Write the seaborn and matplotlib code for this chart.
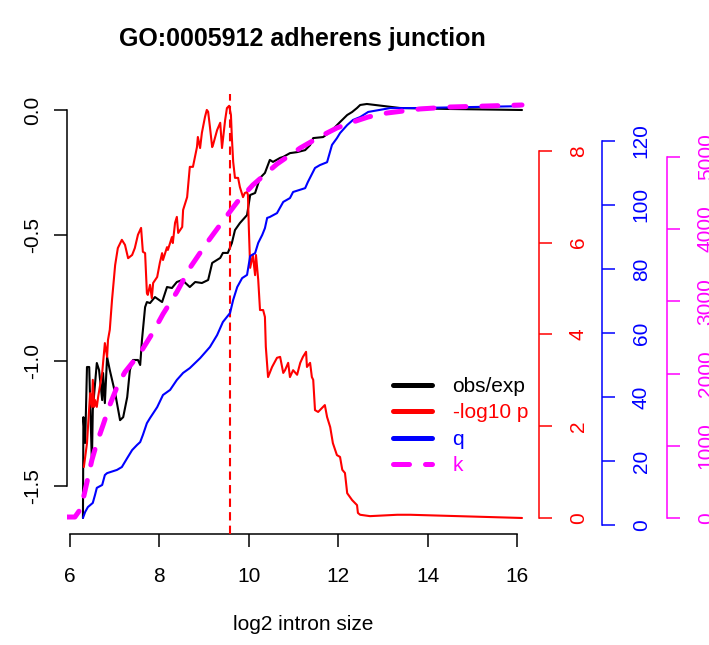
import matplotlib
matplotlib.use("Agg")
import matplotlib.pyplot as plt
from matplotlib.lines import Line2D
import seaborn as sns

# obs/exp ratio (left axis)
obs_x = [6.29, 6.30, 6.34, 6.38, 6.43, 6.49, 6.51, 6.60, 6.65, 6.72,
         6.74, 6.78, 6.83, 6.89, 7.01, 7.12, 7.19, 7.28, 7.34, 7.41,
         7.52, 7.57, 7.61, 7.68, 7.72, 7.79, 7.90, 8.06, 8.17, 8.28,
         8.39, 8.51, 8.68, 8.80, 8.95, 9.09, 9.18, 9.36, 9.42, 9.53,
         9.62, 9.69, 9.80, 9.96, 10.03, 10.14, 10.25, 10.36, 10.47, 10.54,
         10.70, 10.77, 10.92, 11.08, 11.26, 11.37, 11.44, 11.66, 11.82, 12.04,
         12.20, 12.31, 12.42, 12.49, 12.64, 13.38, 14.50, 16.11]
obs_y = [-1.627, -1.225, -1.328, -1.025, -1.025, -1.408, -1.197, -1.009, -1.037, -1.157,
         -1.049, -1.169, -0.985, -1.037, -1.129, -1.237, -1.225, -1.145, -1.037, -0.997,
         -0.997, -1.017, -0.917, -0.786, -0.766, -0.770, -0.746, -0.766, -0.706, -0.710,
         -0.686, -0.678, -0.706, -0.686, -0.690, -0.678, -0.610, -0.590, -0.570, -0.570,
         -0.531, -0.479, -0.451, -0.419, -0.339, -0.331, -0.271, -0.251, -0.199, -0.207,
         -0.191, -0.187, -0.172, -0.168, -0.160, -0.140, -0.112, -0.108, -0.088, -0.048,
         -0.020, -0.008, 0.008, 0.020, 0.024, 0.008, 0.004, 0.0]

# -log10 p (red axis)
p_x = [6.31, 6.34, 6.38, 6.45, 6.49, 6.51, 6.54, 6.56, 6.60, 6.63,
       6.72, 6.74, 6.78, 6.83, 6.85, 6.89, 6.94, 7.01, 7.07, 7.16,
       7.23, 7.30, 7.39, 7.45, 7.52, 7.59, 7.63, 7.68, 7.72, 7.74,
       7.79, 7.83, 7.86, 7.95, 8.01, 8.06, 8.08, 8.17, 8.19, 8.28,
       8.30, 8.35, 8.39, 8.42, 8.51, 8.53, 8.62, 8.68, 8.75, 8.84,
       8.86, 8.91, 8.95, 9.02, 9.06, 9.09, 9.13, 9.18, 9.20, 9.29,
       9.36, 9.40, 9.47, 9.51, 9.56, 9.60, 9.62, 9.65, 9.69, 9.76,
       9.80, 9.87, 9.91, 9.96, 9.98, 10.00, 10.03, 10.09, 10.14, 10.16,
       10.21, 10.25, 10.32, 10.36, 10.38, 10.43, 10.52, 10.63, 10.70, 10.77,
       10.81, 10.88, 10.92, 10.99, 11.08, 11.15, 11.21, 11.28, 11.30, 11.37,
       11.41, 11.44, 11.48, 11.55, 11.70, 11.75, 11.82, 11.88, 11.97, 12.04,
       12.09, 12.15, 12.20, 12.31, 12.42, 12.44, 12.49, 12.71, 13.32, 13.61,
       16.11]
p_y = [1.11, 1.33, 1.63, 2.72, 2.42, 3.01, 2.42, 2.57, 2.42, 2.64,
       3.16, 3.38, 3.81, 3.51, 3.88, 4.10, 4.75, 5.51, 5.88, 6.06,
       5.95, 5.66, 5.73, 5.88, 6.17, 6.32, 5.80, 5.77, 4.90, 4.86,
       5.08, 4.79, 5.12, 5.25, 5.56, 5.77, 5.62, 5.90, 5.84, 6.12,
       5.99, 6.43, 6.56, 6.21, 6.34, 6.71, 6.99, 7.65, 7.65, 8.08,
       8.30, 8.06, 8.39, 8.74, 8.89, 8.85, 8.52, 8.08, 8.13, 8.45,
       8.61, 8.06, 8.67, 8.93, 8.98, 8.78, 8.30, 7.76, 7.41, 7.41,
       7.21, 6.99, 7.08, 7.10, 7.04, 6.32, 5.45, 5.73, 5.29, 5.73,
       5.19, 4.53, 4.53, 4.38, 3.73, 3.07, 3.29, 3.49, 3.51, 3.16,
       3.22, 3.38, 3.07, 3.22, 3.12, 3.38, 3.51, 3.62, 3.29, 3.38,
       3.07, 3.01, 2.35, 2.31, 2.46, 2.20, 1.98, 1.63, 1.37, 1.33,
       1.05, 0.98, 0.54, 0.39, 0.28, 0.11, 0.07, 0.04, 0.07, 0.07,
       0.00]

# q (blue axis)
q_x = [6.29, 6.34, 6.40, 6.51, 6.56, 6.60, 6.72, 6.78, 6.83, 7.05,
       7.16, 7.28, 7.39, 7.50, 7.57, 7.63, 7.72, 7.79, 7.95, 8.08,
       8.24, 8.39, 8.53, 8.68, 8.91, 9.13, 9.29, 9.42, 9.58, 9.65,
       9.74, 9.85, 9.96, 10.03, 10.14, 10.21, 10.30, 10.36, 10.41, 10.47,
       10.63, 10.77, 10.92, 10.99, 11.26, 11.32, 11.48, 11.59, 11.75, 11.86,
       11.97, 12.04, 12.20, 12.33, 12.49, 12.67, 13.16, 13.67, 16.07]
q_y = [2.2, 4.1, 5.6, 6.9, 9.4, 11.6, 12.5, 15.6, 16.2, 17.2,
       18.1, 20.9, 23.4, 25.0, 25.9, 28.1, 31.8, 33.4, 36.8, 40.6,
       42.2, 45.3, 47.5, 49.0, 52.1, 55.6, 59.3, 63.4, 66.2, 70.3,
       74.3, 77.1, 78.1, 84.0, 84.9, 88.1, 90.6, 92.7, 95.9, 96.2,
       97.4, 100.9, 102.1, 104.0, 105.2, 107.1, 111.5, 112.4, 113.3, 118.7,
       120.8, 122.4, 124.9, 126.5, 127.4, 129.0, 130.2, 130.2, 130.8]

# k (magenta axis)
k_x = [5.91, 6.11, 6.22, 6.29, 6.38, 6.49, 6.60, 6.74, 6.89, 7.07,
       7.23, 7.57, 7.86, 8.08, 8.39, 8.68, 9.06, 9.42, 9.74, 10.09,
       10.32, 10.63, 11.15, 11.66, 11.97, 12.26, 12.67, 13.09, 13.83, 14.50,
       15.33, 16.11]
k_y = [14, 14, 111, 249, 498, 803, 1038, 1287, 1564, 1841,
       2021, 2284, 2574, 2823, 3128, 3460, 3806, 4110, 4373, 4609,
       4733, 4899, 5121, 5301, 5398, 5467, 5550, 5605, 5661, 5688,
       5702, 5716]

best_x = 9.57

title = "GO:0005912 adherens junction"
xlabel = "log2 intron size"
legend_labels = ["obs/exp", "-log10 p", "q", "k"]
x_ticks = [6, 8, 10, 12, 14, 16]
obs_ticks = [0.0, -0.5, -1.0, -1.5]
obs_tick_labels = ["0.0", "-0.5", "-1.0", "-1.5"]
p_ticks = [0, 2, 4, 6, 8]
q_ticks = [0, 20, 40, 60, 80, 100, 120]
k_ticks = [0, 1000, 2000, 3000, 4000, 5000]

sns.set_style("ticks", rc={"axes.edgecolor": "black", "text.color": "black",
                           "xtick.color": "black", "ytick.color": "black"})
plt.rcParams["font.family"] = ["Liberation Sans", "DejaVu Sans"]
plt.rcParams["axes.unicode_minus"] = False

W, H = 709, 645
L, R, T, B = 66.5, 539, 94, 534
fig = plt.figure(figsize=(W / 100, H / 100), dpi=100)
ax = fig.add_axes([L / W, 1 - B / H, (R - L) / W, (B - T) / H])
ax.set_xlim(5.922, 16.49)
ax.set_ylim(-1.691, 0.0638)

lw = 1.5
tick_len = 9.4
tick_w = 1.1
fs = 15

# main axis
sns.lineplot(x=obs_x, y=obs_y, ax=ax, color="black", lw=lw, sort=False, estimator=None)
ax.spines[["top", "right"]].set_visible(False)
ax.spines["left"].set_bounds(-1.5, 0.0)
ax.spines["bottom"].set_bounds(6, 16)
for s in ("left", "bottom"):
    ax.spines[s].set_linewidth(tick_w)
ax.set_xticks(x_ticks)
ax.set_xticklabels([str(t) for t in x_ticks])
ax.set_yticks(obs_ticks)
ax.set_yticklabels(obs_tick_labels)
ax.tick_params(axis="both", direction="out", length=tick_len, width=tick_w, labelsize=fs)
ax.tick_params(axis="x", pad=14)
ax.tick_params(axis="y", pad=8, labelrotation=90)
for t in ax.get_yticklabels():
    t.set_verticalalignment("center")


def side_axis(color, lims, ticks, offset):
    a = ax.twinx()
    a.set_ylim(*lims)
    a.spines[["top", "bottom", "left"]].set_visible(False)
    a.spines["right"].set_position(("outward", offset))
    a.spines["right"].set_bounds(ticks[0], ticks[-1])
    a.spines["right"].set_color(color)
    a.spines["right"].set_linewidth(tick_w)
    a.set_yticks(ticks)
    a.set_yticklabels([str(t) for t in ticks])
    a.tick_params(axis="y", direction="out", length=tick_len, width=tick_w,
                  colors=color, labelsize=fs, pad=12, labelrotation=90)
    for t in a.get_yticklabels():
        t.set_verticalalignment("center")
    return a


ax_p = side_axis("red", (-0.349, 9.237), p_ticks, 0)
sns.lineplot(x=p_x, y=p_y, ax=ax_p, color="red", lw=lw, sort=False, estimator=None)
ax_p.axvline(best_x, color="red", lw=lw, linestyle=(0, (4, 2.5)))

ax_q = side_axis("blue", (-2.81, 134.6), q_ticks, 63 * 0.72)
sns.lineplot(x=q_x, y=q_y, ax=ax_q, color="blue", lw=lw, sort=False, estimator=None)

ax_k = side_axis("magenta", (-221, 5868), k_ticks, 128 * 0.72)
sns.lineplot(x=k_x, y=k_y, ax=ax_k, color="magenta", lw=3.6, sort=False, estimator=None,
             linestyle=(0, (3.2, 3.2)), dash_capstyle="round")

for a in (ax_p, ax_q, ax_k):
    a.set_xlim(ax.get_xlim())

fig.text((L + R) / 2 / W, 1 - 39 / H, title, ha="center", va="center",
         fontsize=18, fontweight="bold")
fig.text((L + R) / 2 / W, 1 - 625 / H, xlabel, ha="center", va="center", fontsize=fs)

colors = ["black", "red", "blue", "magenta"]
handles = [Line2D([], [], color=c, lw=3.6, solid_capstyle="round") for c in colors[:3]]
handles.append(Line2D([], [], color="magenta", lw=3.6, linestyle=(0, (3.2, 3.2)),
                      dash_capstyle="round"))
fig.legend(handles, legend_labels, loc="upper left",
           bbox_to_anchor=(393 / W, 1 - 377 / H), frameon=False, fontsize=fs,
           handlelength=1.86, handletextpad=1.0, labelspacing=0.36,
           borderpad=0, borderaxespad=0, labelcolor=colors)

fig.savefig("out.png", dpi=100)
